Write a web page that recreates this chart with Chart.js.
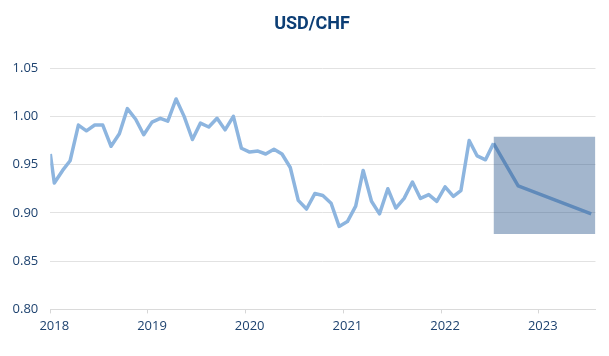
<!DOCTYPE html>
<html>
<head>
<meta charset="utf-8">
<script src="https://cdn.jsdelivr.net/npm/chart.js@4/dist/chart.umd.min.js"></script>
<style>
  html, body { margin: 0; padding: 0; background: #ffffff; }
  #wrap { width: 609px; height: 356px; }
</style>
</head>
<body>
<div id="wrap"><canvas id="c" width="609" height="356"></canvas></div>
<script>
// ---- Data ----
const chartTitle = 'USD/CHF';

// Historical monthly series: first point at start of Jan 2018, then mid-month points
const histDates = ['2018-01-01'];
for (let y = 2018; y <= 2022; y++) {
  for (let m = 1; m <= 12; m++) {
    if (y === 2022 && m > 7) break;
    histDates.push(y + '-' + String(m).padStart(2, '0') + '-16');
  }
}
const histValues = [
  0.961, 0.931, 0.944, 0.954, 0.991, 0.985, 0.991, 0.991, 0.969, 0.982, 1.008, 0.997, 0.981,
  0.994, 0.998, 0.995, 1.018, 1.000, 0.976, 0.993, 0.989, 0.998, 0.986, 1.000, 0.967,
  0.963, 0.964, 0.961, 0.966, 0.961, 0.947, 0.913, 0.904, 0.920, 0.918, 0.910, 0.886,
  0.891, 0.907, 0.944, 0.912, 0.899, 0.925, 0.905, 0.915, 0.932, 0.915, 0.919, 0.912,
  0.927, 0.917, 0.923, 0.975, 0.959, 0.955, 0.972
];

// Forecast path
const forecastDates = ['2022-07-16', '2022-10-16', '2023-07-16'];
const forecastValues = [0.972, 0.928, 0.899];

// Forecast range box
const boxDates = ['2022-07-16', '2023-08-01'];
const boxHigh = 0.979;
const boxLow = 0.878;

// Axis ticks
const xTickValues = [2018, 2019, 2020, 2021, 2022, 2023];
const xTickLabels = ['2018', '2019', '2020', '2021', '2022', '2023'];
const yTickValues = [0.80, 0.85, 0.90, 0.95, 1.00, 1.05];
const yTickLabels = ['0.80', '0.85', '0.90', '0.95', '1.00', '1.05'];
const xMinDate = '2018-01-01';
const xMaxDate = '2023-08-01';

// ---- Helpers ----
function toYear(s) {
  const [y, m, d] = s.split('-').map(Number);
  const start = Date.UTC(y, 0, 1), end = Date.UTC(y + 1, 0, 1);
  return y + (Date.UTC(y, m - 1, d) - start) / (end - start);
}
const pts = (dates, vals) => dates.map((d, i) => ({ x: toYear(d), y: vals[i] }));

const lineColor = 'rgb(141,181,223)';
const tickColor = '#1d426f';
const gridColor = '#e2e2e2';

// Shift the title box so it is centred where the reference title sits
const titleShift = {
  id: 'titleShift',
  afterLayout(chart) {
    const tb = chart.titleBlock;
    if (tb) { tb.left = 28.5; tb.width = tb.right - tb.left; }
  }
};

new Chart(document.getElementById('c'), {
  type: 'line',
  plugins: [titleShift],
  data: {
    datasets: [
      {
        label: 'Range',
        data: boxDates.map(d => ({ x: toYear(d), y: boxHigh })),
        borderWidth: 0,
        borderColor: 'rgba(0,0,0,0)',
        backgroundColor: 'rgba(31,78,133,0.41)',
        fill: { value: boxLow },
        pointRadius: 0,
        order: 0
      },
      {
        label: 'Forecast',
        data: pts(forecastDates, forecastValues),
        borderColor: lineColor,
        borderWidth: 3.5,
        pointRadius: 0,
        tension: 0,
        fill: false,
        order: 1
      },
      {
        label: 'USD/CHF',
        data: pts(histDates, histValues),
        borderColor: lineColor,
        borderWidth: 3.5,
        pointRadius: 0,
        tension: 0,
        fill: false,
        borderJoinStyle: 'round',
        order: 2
      }
    ]
  },
  options: {
    responsive: false,
    animation: false,
    devicePixelRatio: 1,
    layout: { padding: { left: 2, right: 13.5, top: 0, bottom: 17 } },
    plugins: {
      legend: { display: false },
      tooltip: { enabled: false },
      title: {
        display: true,
        text: chartTitle,
        color: '#0c3e75',
        font: { family: 'Roboto', size: 18, weight: 'bold' },
        padding: { top: 13.5, bottom: 33 }
      }
    },
    scales: {
      x: {
        type: 'linear',
        min: toYear(xMinDate),
        max: toYear(xMaxDate),
        afterBuildTicks: (scale) => { scale.ticks = xTickValues.map(v => ({ value: v })); },
        ticks: {
          callback: (v) => { const i = xTickValues.indexOf(v); return i >= 0 ? xTickLabels[i] : ''; },
          color: tickColor,
          font: { family: 'Open Sans', size: 13 },
          padding: 5,
          labelOffset: 4,
          maxRotation: 0,
          autoSkip: false
        },
        grid: { drawOnChartArea: false, drawTicks: true, tickLength: 4, color: '#d6d6d6' },
        border: { display: true, color: '#dadada', width: 1 }
      },
      y: {
        min: 0.80,
        max: 1.05,
        afterBuildTicks: (scale) => { scale.ticks = yTickValues.map(v => ({ value: v })); },
        afterFit: (scale) => { scale.width = 48.3; },
        ticks: {
          callback: (v) => { const i = yTickValues.findIndex(t => Math.abs(t - v) < 1e-9); return i >= 0 ? yTickLabels[i] : ''; },
          color: tickColor,
          font: { family: 'Open Sans', size: 13 },
          padding: 12
        },
        grid: { color: gridColor, drawTicks: false, lineWidth: 1 },
        border: { display: false }
      }
    }
  }
});
</script>
</body>
</html>
